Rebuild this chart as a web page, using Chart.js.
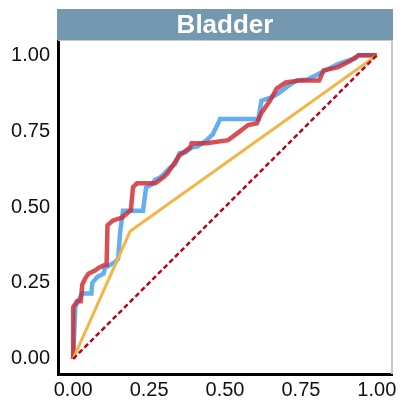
<!DOCTYPE html>
<html>
<head>
<meta charset="utf-8">
<script src="https://cdn.jsdelivr.net/npm/chart.js@4.4.1/dist/chart.umd.min.js"></script>
<style>
  html, body { margin: 0; padding: 0; background: #fff; }
  #wrap { width: 404px; height: 403px; }
</style>
</head>
<body>
<div id="wrap"><canvas id="rocChart"></canvas></div>
<script>
const titleText = 'Bladder';
const tickValues = [0, 0.25, 0.5, 0.75, 1];

// curva azul
const blueFpr = [0, 0.007, 0.016, 0.03, 0.06, 0.063, 0.08, 0.1, 0.105, 0.14, 0.148, 0.155, 0.164, 0.23, 0.24, 0.26, 0.27, 0.286, 0.30, 0.32, 0.335, 0.35, 0.37, 0.39, 0.41, 0.44, 0.46, 0.47, 0.484, 0.61, 0.62, 0.65, 0.67, 0.69, 0.71, 0.737, 0.77, 0.80, 0.82, 0.845, 0.87, 0.89, 0.93, 0.94, 1];
const blueTpr = [0, 0.17, 0.19, 0.215, 0.215, 0.25, 0.27, 0.28, 0.30, 0.32, 0.33, 0.42, 0.488, 0.488, 0.564, 0.575, 0.59, 0.597, 0.61, 0.63, 0.64, 0.677, 0.68, 0.696, 0.70, 0.72, 0.74, 0.76, 0.79, 0.79, 0.85, 0.86, 0.87, 0.885, 0.90, 0.917, 0.92, 0.934, 0.945, 0.957, 0.97, 0.977, 0.99, 1, 1];

// curva roja
const redFpr = [0, 0, 0.013, 0.025, 0.03, 0.04, 0.05, 0.07, 0.085, 0.105, 0.11, 0.113, 0.13, 0.16, 0.19, 0.197, 0.21, 0.27, 0.28, 0.30, 0.31, 0.33, 0.35, 0.385, 0.39, 0.44, 0.51, 0.53, 0.55, 0.576, 0.605, 0.62, 0.648, 0.67, 0.70, 0.747, 0.81, 0.825, 0.87, 0.91, 0.94, 1];
const redTpr = [0, 0.17, 0.19, 0.19, 0.245, 0.265, 0.28, 0.29, 0.30, 0.31, 0.31, 0.44, 0.455, 0.465, 0.49, 0.565, 0.578, 0.578, 0.585, 0.60, 0.61, 0.64, 0.67, 0.696, 0.71, 0.71, 0.72, 0.735, 0.75, 0.77, 0.776, 0.81, 0.85, 0.89, 0.91, 0.917, 0.917, 0.95, 0.96, 0.98, 1, 1];

// curva naranja
const orangeFpr = [0, 0.1875, 1];
const orangeTpr = [0, 0.42, 1];

// diagonal
const diagFpr = [0, 1];
const diagTpr = [0, 1];

function toPoints(xs, ys) {
    return xs.map((x, i) => ({ x: x, y: ys[i] }));
}

const frame = {
    id: 'frame',
    beforeDatasetsDraw(chart) {
        const { ctx, chartArea: a } = chart;
        ctx.save();
        ctx.strokeStyle = '#c8c8c8';
        ctx.lineWidth = 2;
        ctx.beginPath();
        ctx.moveTo(a.left, a.top);
        ctx.lineTo(a.right, a.top);
        ctx.lineTo(a.right, a.bottom);
        ctx.stroke();
        ctx.restore();
    },
    afterDraw(chart) {
        const { ctx, chartArea: a } = chart;
        ctx.save();
        ctx.fillStyle = '#7598b1';
        ctx.fillRect(a.left - 1, 9, a.right - a.left + 2, a.top - 9);
        ctx.fillStyle = '#ffffff';
        ctx.font = 'bold 26px "Liberation Sans", Arial, sans-serif';
        ctx.textAlign = 'center';
        ctx.textBaseline = 'middle';
        ctx.fillText(titleText, (a.left + a.right) / 2, 26);
        ctx.restore();
    }
};

const axisFont = { family: '"Liberation Sans", Arial, sans-serif', size: 20 };

new Chart(document.getElementById('rocChart'), {
    type: 'scatter',
    data: {
        datasets: [
            {
                data: toPoints(diagFpr, diagTpr),
                showLine: true, pointRadius: 0,
                borderColor: '#c0001a', borderWidth: 2.5, borderDash: [5, 3],
                order: 0
            },
            {
                data: toPoints(orangeFpr, orangeTpr),
                showLine: true, pointRadius: 0,
                borderColor: '#f3b547', borderWidth: 3,
                order: 1
            },
            {
                data: toPoints(redFpr, redTpr),
                showLine: true, pointRadius: 0,
                borderColor: 'rgba(210, 40, 48, 0.82)', borderWidth: 4.5,
                order: 2
            },
            {
                data: toPoints(blueFpr, blueTpr),
                showLine: true, pointRadius: 0,
                borderColor: 'rgba(75, 160, 240, 0.85)', borderWidth: 4.5,
                order: 3
            }
        ]
    },
    options: {
        responsive: true,
        maintainAspectRatio: false,
        animation: false,
        layout: { padding: { top: 40, right: 12, left: 0, bottom: 0 } },
        plugins: { legend: { display: false }, tooltip: { enabled: false } },
        scales: {
            x: {
                type: 'linear', min: -0.05, max: 1.05,
                afterBuildTicks: s => { s.ticks = tickValues.map(v => ({ value: v })); },
                afterFit: s => { s.height = 29; },
                grid: { display: false, drawTicks: false },
                border: { color: '#000', width: 3 },
                ticks: { color: '#111', font: axisFont, padding: 4, maxRotation: 0,
                         callback: v => v.toFixed(2) }
            },
            y: {
                type: 'linear', min: -0.05, max: 1.05,
                afterBuildTicks: s => { s.ticks = tickValues.map(v => ({ value: v })); },
                afterFit: s => { s.width = 58; },
                grid: { display: false, drawTicks: false },
                border: { color: '#000', width: 3 },
                ticks: { color: '#111', font: axisFont, padding: 8,
                         callback: v => v.toFixed(2) }
            }
        }
    },
    plugins: [frame]
});
</script>
</body>
</html>
